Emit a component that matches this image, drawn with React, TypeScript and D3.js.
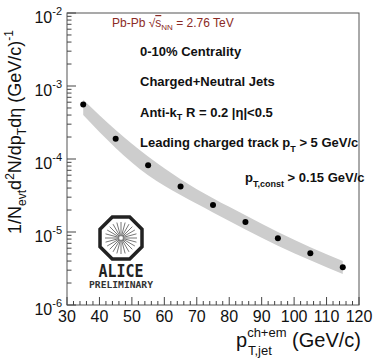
import React from 'react';
import * as d3 from 'd3';

// jet pT bin centres (GeV/c) and measured yields
const ptBins = [35, 45, 55, 65, 75, 85, 95, 105, 115];
const yields = [5.6e-4, 1.9e-4, 8.2e-5, 4.2e-5, 2.34e-5, 1.37e-5, 8.2e-6, 5.1e-6, 3.3e-6];
// systematic band edges
const sysHigh = [6.5e-4, 2.5e-4, 1.08e-4, 5.3e-5, 2.9e-5, 1.7e-5, 1.0e-5, 6.2e-6, 4.0e-6];
const sysLow = [4.0e-4, 1.42e-4, 6.0e-5, 3.2e-5, 1.85e-5, 1.08e-5, 6.5e-6, 4.1e-6, 2.65e-6];

const xTicks = [30, 40, 50, 60, 70, 80, 90, 100, 110, 120];
const yExponents = [-2, -3, -4, -5, -6];
const infoLines = ['0-10% Centrality', 'Charged+Neutral Jets'];

const W = 374, H = 359;
const L = 67, R = 359, T = 13, B = 305;
const font = 'Liberation Sans, Arial, Helvetica, sans-serif';

export default function App() {
  const x = d3.scaleLinear().domain([30, 120]).range([L, R]);
  const y = d3.scaleLog().domain([1e-6, 1e-2]).range([B, T]);

  const band = d3.area<number>()
    .x((d) => x(ptBins[d]))
    .y0((d) => y(sysLow[d]))
    .y1((d) => y(sysHigh[d]))
    .curve(d3.curveMonotoneX);

  const minorX = d3.range(30, 121, 2).filter((v) => v % 10 !== 0);
  const minorY: number[] = [];
  for (let e = -6; e < -2; e++) for (let m = 2; m <= 9; m++) minorY.push(m * Math.pow(10, e));

  // ALICE logo geometry
  const cx = 121, cy = 238, rOct = 21;
  const oct = d3.range(8).map((i) => {
    const a = Math.PI / 8 + (i * Math.PI) / 4;
    return [cx + (rOct / Math.cos(Math.PI / 8)) * Math.cos(a), cy + (rOct / Math.cos(Math.PI / 8)) * Math.sin(a)];
  });
  const rays = d3.range(24).map((i) => (i * Math.PI * 2) / 24);

  return (
    <svg width={W} height={H} style={{ position: 'absolute', left: 0, top: 0, background: '#fff' }} fontFamily={font}>
      <path d={band(d3.range(ptBins.length)) || ''} fill="#cdcdcd" />
      {ptBins.map((p, i) => (
        <circle key={p} cx={x(p)} cy={y(yields[i])} r={3} fill="#000" />
      ))}

      {/* frame */}
      <rect x={L} y={T} width={R - L} height={B - T} fill="none" stroke="#555" strokeWidth={1} />

      {/* x ticks */}
      {xTicks.map((t) => (
        <g key={t}>
          <line x1={x(t)} x2={x(t)} y1={B} y2={B - 8} stroke="#444" />
          <text x={x(t)} y={322} fontSize={16} textAnchor="middle" fill="#111">{t}</text>
        </g>
      ))}
      {minorX.map((t) => (
        <line key={t} x1={x(t)} x2={x(t)} y1={B} y2={B - 4} stroke="#444" />
      ))}

      {/* y ticks */}
      {yExponents.map((e) => (
        <g key={e}>
          <line x1={L} x2={L + 9} y1={y(Math.pow(10, e))} y2={y(Math.pow(10, e))} stroke="#444" />
          <text x={62} y={y(Math.pow(10, e)) + 10} fontSize={16} textAnchor="end" fill="#111">
            10<tspan fontSize={11} dy={-8}>{e}</tspan>
          </text>
        </g>
      ))}
      {minorY.map((v) => (
        <line key={v} x1={L} x2={L + 4.5} y1={y(v)} y2={y(v)} stroke="#444" />
      ))}

      {/* y title */}
      <text transform="translate(21,132) rotate(-90)" fontSize={18} textAnchor="middle" fill="#111">
        1/N<tspan fontSize={12} dy={5}>evt</tspan>
        <tspan dy={-5}>d</tspan><tspan fontSize={12} dy={-7}>2</tspan>
        <tspan dy={7}>N/dp</tspan><tspan fontSize={12} dy={5}>T</tspan>
        <tspan dy={-5}>dη (GeV/c)</tspan><tspan fontSize={12} dy={-8}>-1</tspan>
      </text>

      {/* x title */}
      <text x={236} y={347} fontSize={20} fill="#111">
        p<tspan fontSize={13} dy={-10}>ch+em</tspan>
        <tspan dy={10}> (GeV/c)</tspan>
      </text>
      <text x={248} y={355} fontSize={13} fill="#111">T,jet</text>

      {/* labels */}
      <text x={112} y={27} fontSize={12} fill="#8b2b25">
        Pb-Pb √<tspan textDecoration="overline">s</tspan><tspan fontSize={8} dy={3}>NN</tspan><tspan dy={-3}> = 2.76 TeV</tspan>
      </text>
      <g fontSize={13} fontWeight="bold" fill="#111">
        {infoLines.map((s, i) => (
          <text key={s} x={140} y={56 + i * 30}>{s}</text>
        ))}
        <text x={140} y={117}>
          Anti-k<tspan fontSize={9} dy={3}>T</tspan><tspan dy={-3}> R = 0.2 |η|&lt;0.5</tspan>
        </text>
        <text x={140} y={147}>
          Leading charged track p<tspan fontSize={9} dy={5}>T</tspan><tspan dy={-5}> &gt; 5 GeV/c</tspan>
        </text>
        <text x={245} y={182}>
          p<tspan fontSize={9} dy={5}>T,const</tspan><tspan dy={-5}> &gt; 0.15 GeV/c</tspan>
        </text>
      </g>

      {/* ALICE logo */}
      <g>
        {rays.map((a, i) => (
          <line key={i} x1={cx + 2 * Math.cos(a)} y1={cy + 2 * Math.sin(a)} x2={cx + 16 * Math.cos(a)} y2={cy + 16 * Math.sin(a)} stroke="#777" strokeWidth={1} />
        ))}
        <polygon points={oct.map((p) => p.join(',')).join(' ')} fill="none" stroke="#222" strokeWidth={3.5} />
        <text x={cx} y={277} fontSize={17} fontWeight="bold" textAnchor="middle" fill="#222" fontFamily="DejaVu Sans Mono, monospace" textLength={45} lengthAdjust="spacingAndGlyphs">ALICE</text>
        <text x={cx} y={288} fontSize={8} fontWeight="bold" textAnchor="middle" fill="#333" fontFamily="DejaVu Sans Mono, monospace" textLength={64} lengthAdjust="spacingAndGlyphs">PRELIMINARY</text>
      </g>
    </svg>
  );
}
